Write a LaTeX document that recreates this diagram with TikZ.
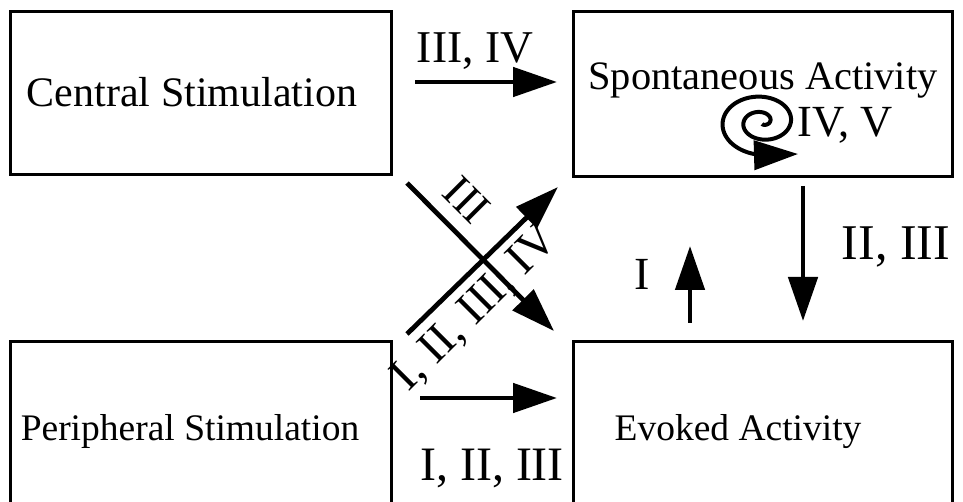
\documentclass[tikz,border=0pt]{standalone}
\usepackage{fontspec}
\setmainfont{Liberation Serif}
\usetikzlibrary{arrows.meta}
\begin{document}
\begin{tikzpicture}[x=1pt,y=-1pt,
  box/.style={draw,line width=3pt,inner sep=0pt},
  tip/.style={-{Triangle[length=44pt,width=29pt]}},
  arr/.style={line width=4.8pt,tip},
  lbl/.style={font=\fontsize{#1}{#1}\selectfont,inner sep=0pt},
  lbl/.default=42,
]
\useasboundingbox (0,0) rectangle (963,502);
\clip (0,0) rectangle (963,502);
% boxes
\node[box,minimum width=381pt,minimum height=163pt] (cbox) at (200.5,93.5) {};
\node[box,minimum width=379pt,minimum height=165pt] (sbox) at (762.5,94.5) {};
\node[box,minimum width=381pt,minimum height=219pt] (pbox) at (200.5,450.5) {};
\node[box,minimum width=379pt,minimum height=219pt] (ebox) at (762.5,450.5) {};
% box texts
\node[lbl=42,anchor=base] (ct) at (192,107) {Central Stimulation};
\node[lbl=40.4,anchor=base] (st) at (763,90) {Spontaneous Activity};
\node[lbl=37.5,anchor=base] (pt) at (190,440) {Peripheral Stimulation};
\node[lbl=37.5,anchor=base] (et) at (738,440) {Evoked Activity};
% coordinates
\coordinate (a1) at (415,82);  \coordinate (a2) at (557,82);
\coordinate (b1) at (420,398); \coordinate (b2) at (557,398);
\coordinate (u1) at (690,323); \coordinate (u2) at (690,246);
\coordinate (d1) at (803,186); \coordinate (d2) at (803,321);
\coordinate (x1) at (407,183); \coordinate (x2) at (554,331);
\coordinate (y1) at (407,334); \coordinate (y2) at (558,187);
% arrows
\draw[arr] (a1) -- (a2);
\draw[arr] (b1) -- (b2);
\draw[arr] (u1) -- (u2);
\draw[arr] (d1) -- (d2);
\draw[arr] (x1) -- (x2);
\draw[arr] (y1) -- (y2);
% spiral
\coordinate (sp) at (798,154);
\draw[line width=4pt,tip]
  plot[domain=270:990,samples=200,smooth] ({762+1.35*(2+(\x-270)/360*15.5)*cos(\x)},{122-(2+(\x-270)/360*15.5)*sin(\x)}) -- (sp);
% labels
\node[lbl=45.5,anchor=base] (l1) at (475,63) {III, IV};
\node[lbl=48,anchor=base] (l2) at (492,480) {I, II, III};
\node[lbl=44.5,anchor=base west] (l3) at (797,137) {IV, V};
\node[lbl=46,anchor=base] (l4) at (642,290) {I};
\node[lbl=50,anchor=base] (l5) at (896,260) {II, III};
\node[lbl=45,rotate=-45] (l6) at (467,200) {III};
\node[lbl=47,rotate=45] (l7) at (476,309) {I, II, III, IV};
\end{tikzpicture}
\end{document}
